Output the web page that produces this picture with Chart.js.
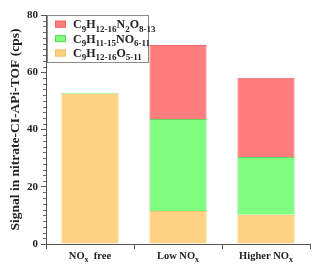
<!DOCTYPE html>
<html>
<head>
<meta charset="utf-8">
<script src="https://cdn.jsdelivr.net/npm/chart.js@4/dist/chart.umd.min.js"></script>
<style>
  html, body { margin: 0; padding: 0; background: #fff; }
  #wrap { width: 320px; height: 272px; }
</style>
</head>
<body>
<div id="wrap"><canvas id="chart" width="320" height="272"></canvas></div>
<script>
// categories (with _x marking subscripts)
const categories = ['NO_x  free', 'Low NO_x', 'Higher NO_x']
// stacked signals (cps), bottom to top
const oxygenated = [52.5, 11.5, 10.2]   // C9H12-16O5-11
const nitrate1 = [0.3, 32.2, 20.2]      // C9H11-15NO6-11
const nitrate2 = [null, 25.8, 27.7]     // C9H12-16N2O8-13
const seriesNames = ['C_9H_{12-16}N_2O_{8-13}', 'C_9H_{11-15}NO_{6-11}', 'C_9H_{12-16}O_{5-11}']
const yTicks = [0, 20, 40, 60, 80]

const SERIF = '"Liberation Serif", "DejaVu Serif", serif'
const colors = {
  red: ['#ff7c7c', '#e86a6a'],
  green: ['#80fe80', '#5ed85e'],
  yellow: ['#fdd282', '#f2c068'],
}

// split "C_9H_{12-16}" into [text, isSub] parts
function parts(str) {
  const out = []
  let i = 0
  while (i < str.length) {
    if (str[i] === '_') {
      if (str[i + 1] === '{') {
        const end = str.indexOf('}', i)
        out.push([str.slice(i + 2, end), true])
        i = end + 1
      } else {
        out.push([str[i + 1], true])
        i += 2
      }
    } else {
      let j = i
      while (j < str.length && str[j] !== '_') j++
      out.push([str.slice(i, j), false])
      i = j
    }
  }
  return out
}

function richText(ctx, str, x, y, size, align) {
  const ps = parts(str)
  const subSize = Math.round(size * 0.72)
  let w = 0
  ps.forEach(p => {
    ctx.font = 'bold ' + (p[1] ? subSize : size) + 'px ' + SERIF
    w += ctx.measureText(p[0]).width
  })
  let cx = align === 'center' ? x - w / 2 : x
  ctx.textAlign = 'left'
  ctx.textBaseline = 'alphabetic'
  ps.forEach(p => {
    ctx.font = 'bold ' + (p[1] ? subSize : size) + 'px ' + SERIF
    ctx.fillText(p[0], cx, p[1] ? y + size * 0.28 : y)
    cx += ctx.measureText(p[0]).width
  })
}

const decor = {
  id: 'decor',
  afterDraw(chart) {
    const ctx = chart.ctx
    const x = chart.scales.x
    const y = chart.scales.y
    ctx.save()
    // minor ticks on y axis
    ctx.strokeStyle = '#666'
    ctx.lineWidth = 1
    for (let v = 0; v <= 80; v += 2) {
      if (v % 20 === 0) continue
      const py = Math.round(y.getPixelForValue(v)) + 0.5
      ctx.beginPath()
      ctx.moveTo(y.right - 3, py)
      ctx.lineTo(y.right, py)
      ctx.stroke()
    }
    // category labels with subscripts
    ctx.fillStyle = '#222'
    categories.forEach((c, i) => {
      richText(ctx, c, x.getPixelForTick(i), 259, 10.5, 'center')
    })
    // legend box
    ctx.fillStyle = '#fff'
    ctx.fillRect(47, 15, 101, 47)
    ctx.strokeStyle = '#8a8a8a'
    ctx.strokeRect(47.5, 15.5, 101, 47)
    const sw = [colors.red, colors.green, colors.yellow]
    const rows = [24.2, 38.6, 53]
    seriesNames.forEach((n, i) => {
      ctx.fillStyle = sw[i][0]
      ctx.fillRect(55, rows[i] - 3.5, 11, 7)
      ctx.strokeStyle = sw[i][1]
      ctx.strokeRect(55.5, rows[i] - 3, 10, 6)
      ctx.fillStyle = '#222'
      richText(ctx, n, 73, rows[i] + 4, 12, 'left')
    })
    ctx.restore()
  },
}

new Chart('chart', {
  type: 'bar',
  data: {
    labels: categories,
    datasets: [
      { label: seriesNames[2], data: oxygenated, backgroundColor: colors.yellow[0], borderColor: colors.yellow[1], borderWidth: 1 },
      { label: seriesNames[1], data: nitrate1, backgroundColor: colors.green[0], borderColor: colors.green[1], borderWidth: 1 },
      { label: seriesNames[0], data: nitrate2, backgroundColor: colors.red[0], borderColor: colors.red[1], borderWidth: 1 },
    ],
  },
  options: {
    responsive: false,
    animation: false,
    layout: { padding: { top: 15, right: 10, left: 0, bottom: 0 } },
    datasets: { bar: { barPercentage: 0.65, categoryPercentage: 1 } },
    plugins: { legend: { display: false }, tooltip: { enabled: false } },
    scales: {
      x: {
        stacked: true,
        afterFit: scale => { scale.height = 28 },
        ticks: { display: false },
        border: { color: '#555', width: 1 },
        grid: { drawOnChartArea: false, drawTicks: true, tickLength: 5, color: '#555', offset: true },
      },
      y: {
        stacked: true,
        min: 0,
        max: 80,
        afterFit: scale => { scale.width = 46 },
        afterBuildTicks: scale => { scale.ticks = yTicks.map(v => ({ value: v })) },
        ticks: { color: '#222', padding: 3, font: { family: SERIF, size: 11, weight: 'bold' } },
        border: { color: '#555', width: 1 },
        grid: { drawOnChartArea: false, drawTicks: true, tickLength: 5, color: '#555' },
        title: {
          display: true,
          text: 'Signal in nitrate-CI-APi-TOF (cps)',
          color: '#222',
          padding: { top: 7, bottom: 0 },
          font: { family: SERIF, size: 13.5, weight: 'bold' },
        },
      },
    },
  },
  plugins: [decor],
})
</script>
</body>
</html>
